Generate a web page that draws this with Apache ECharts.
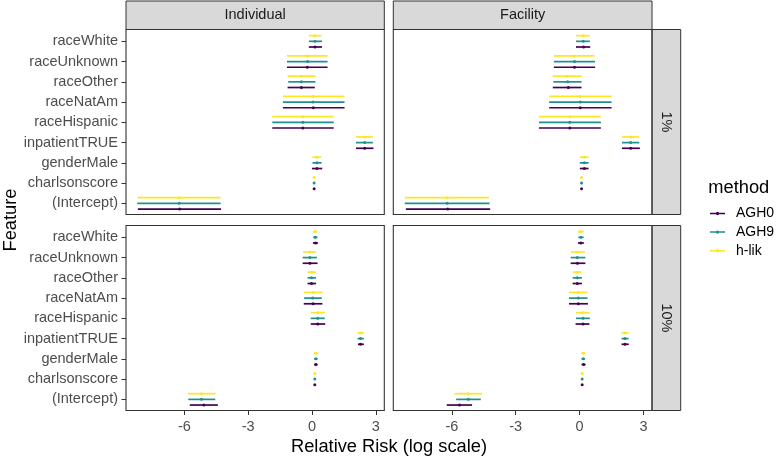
<!DOCTYPE html>
<html>
<head>
<meta charset="utf-8">
<script src="https://cdn.jsdelivr.net/npm/echarts@6/dist/echarts.min.js"></script>
<style>html,body{margin:0;padding:0;background:#fff;}#c{width:778px;height:457px;}</style>
</head>
<body>
<div id="c"></div>
<script>
// ---- data (top-to-bottom feature order) ----
const features = ['raceWhite','raceUnknown','raceOther','raceNatAm','raceHispanic','inpatientTRUE','genderMale','charlsonscore','(Intercept)'];
const methods = ['AGH0','AGH9','h-lik'];
const columnLabels = ['Individual','Facility'];
const rowLabels = ['1%','10%'];
const xTicks = [-6, -3, 0, 3];

// each entry: [estimate, lower, upper]
const ind1_AGH0 = [[0.14,-0.15,0.47],[-0.22,-1.18,0.73],[-0.50,-1.15,0.13],[0.06,-1.37,1.53],[-0.43,-1.87,1.02],[2.48,2.07,2.89],[0.23,0.00,0.48],[0.10,0.07,0.13],[-6.23,-8.19,-4.28]];
const ind1_AGH9 = [[0.14,-0.15,0.47],[-0.21,-1.18,0.73],[-0.50,-1.12,0.16],[0.05,-1.37,1.53],[-0.43,-1.87,1.02],[2.48,2.07,2.86],[0.23,0.02,0.45],[0.10,0.07,0.13],[-6.25,-8.22,-4.30]];
const ind1_hlik = [[0.13,-0.15,0.45],[-0.21,-1.18,0.73],[-0.50,-1.15,0.16],[0.05,-1.37,1.53],[-0.43,-1.87,1.02],[2.48,2.07,2.86],[0.23,0.02,0.45],[0.10,0.07,0.13],[-6.25,-8.22,-4.30]];

const fac1_AGH0 = [[0.19,-0.17,0.50],[-0.24,-1.21,0.73],[-0.53,-1.26,0.09],[0.03,-1.43,1.50],[-0.46,-1.91,1.00],[2.40,1.99,2.83],[0.22,0.01,0.42],[0.09,0.06,0.12],[-6.19,-8.16,-4.20]];
const fac1_AGH9 = [[0.17,-0.17,0.48],[-0.24,-1.21,0.72],[-0.56,-1.23,0.09],[0.03,-1.43,1.50],[-0.46,-1.91,1.00],[2.40,1.99,2.80],[0.22,0.01,0.42],[0.09,0.06,0.12],[-6.22,-8.21,-4.23]];
const fac1_hlik = [[0.17,-0.17,0.48],[-0.25,-1.21,0.70],[-0.61,-1.26,0.09],[0.03,-1.43,1.50],[-0.46,-1.91,1.00],[2.40,1.99,2.80],[0.22,0.01,0.42],[0.09,0.06,0.12],[-6.22,-8.21,-4.25]];

const ind10_AGH0 = [[0.17,0.04,0.28],[-0.10,-0.44,0.26],[-0.02,-0.21,0.19],[0.05,-0.39,0.49],[0.27,-0.06,0.62],[2.28,2.16,2.44],[0.18,0.10,0.26],[0.13,0.10,0.16],[-5.09,-5.75,-4.43]];
const ind10_AGH9 = [[0.15,0.06,0.26],[-0.10,-0.44,0.23],[-0.02,-0.21,0.19],[0.03,-0.37,0.46],[0.27,-0.06,0.60],[2.28,2.14,2.44],[0.18,0.10,0.26],[0.13,0.10,0.16],[-5.20,-5.82,-4.55]];
const ind10_hlik = [[0.15,0.04,0.26],[-0.10,-0.42,0.20],[-0.01,-0.20,0.18],[0.05,-0.39,0.49],[0.27,-0.06,0.60],[2.28,2.14,2.44],[0.18,0.10,0.26],[0.13,0.10,0.16],[-5.20,-5.84,-4.54]];

const fac10_AGH0 = [[0.06,-0.08,0.20],[-0.10,-0.42,0.27],[-0.11,-0.33,0.11],[-0.06,-0.50,0.39],[0.16,-0.19,0.46],[2.13,1.97,2.31],[0.19,0.09,0.28],[0.12,0.09,0.15],[-5.64,-6.24,-5.05]];
const fac10_AGH9 = [[0.06,-0.06,0.19],[-0.11,-0.42,0.27],[-0.11,-0.33,0.11],[-0.06,-0.50,0.37],[0.16,-0.17,0.48],[2.13,1.97,2.30],[0.17,0.09,0.25],[0.12,0.09,0.15],[-5.22,-5.80,-4.64]];
const fac10_hlik = [[0.06,-0.08,0.19],[-0.10,-0.41,0.25],[-0.11,-0.31,0.09],[-0.06,-0.50,0.37],[0.14,-0.17,0.48],[2.13,1.97,2.30],[0.17,0.09,0.25],[0.12,0.09,0.15],[-5.24,-5.88,-4.58]];

// ---- styling / layout ----
const colors = {'AGH0':'#440154','AGH9':'#21908C','h-lik':'#FDE725'};
const FONT = 'Liberation Sans, Arial, sans-serif';
const colLeft = [126, 393.3];
const colWidth = [258.3, 258.7];
const rowTop = [29.5, 225.5];
const panelH = 185;
const insetTop = 1.7;
const plotH = 182.3;

const panels = [
  {r:0, c:0, data:{'AGH0':ind1_AGH0,'AGH9':ind1_AGH9,'h-lik':ind1_hlik}},
  {r:0, c:1, data:{'AGH0':fac1_AGH0,'AGH9':fac1_AGH9,'h-lik':fac1_hlik}},
  {r:1, c:0, data:{'AGH0':ind10_AGH0,'AGH9':ind10_AGH9,'h-lik':ind10_hlik}},
  {r:1, c:1, data:{'AGH0':fac10_AGH0,'AGH9':fac10_AGH9,'h-lik':fac10_hlik}}
];

const grid = [], xAxis = [], yAxis = [], series = [], graphic = [];
panels.forEach((p, i) => {
  grid.push({left: colLeft[p.c], width: colWidth[p.c], top: rowTop[p.r] + insetTop, height: plotH, containLabel:false});
  const bottom = p.r === 1;
  xAxis.push({
    type:'value', gridIndex:i, min:-8.75, max:3.4, offset: bottom ? (panelH - insetTop - plotH) : 0, position:'bottom',
    axisLine:{show:false, onZero:false}, splitLine:{show:false},
    axisTick:{show:bottom, length:4.5, lineStyle:{color:'#333333', width:1}, customValues:xTicks},
    axisLabel:{show:bottom, customValues:xTicks, color:'#4D4D4D', fontSize:14.5, fontFamily:FONT, margin:9}
  });
  const left = p.c === 0;
  yAxis.push({
    type:'category', gridIndex:i, data:features, inverse:true, position:'left',
    axisLine:{show:false, onZero:false}, splitLine:{show:false},
    axisTick:{show:left, alignWithLabel:true, length:4.5, lineStyle:{color:'#333333', width:1}},
    axisLabel:{show:left, color:'#4D4D4D', fontSize:14.5, fontFamily:FONT, margin:8, interval:0}
  });
  methods.forEach((m, mi) => {
    const off = 1 - mi; // AGH0 lowest, h-lik highest
    const col = colors[m];
    series.push({
      type:'custom', name:m, xAxisIndex:i, yAxisIndex:i,
      itemStyle:{color:col},
      encode:{x:[0,1,2], y:3},
      data: p.data[m].map((v, k) => [v[0], v[1], v[2], k]),
      renderItem: function(params, api){
        const est = api.value(0), lo = api.value(1), hi = api.value(2), k = api.value(3);
        const a = api.coord([lo, k]), b = api.coord([hi, k]), e = api.coord([est, k]);
        const dy = off * api.size([0, 1])[1] * 0.28;
        return {type:'group', children:[
          {type:'line', shape:{x1:a[0], y1:a[1]+dy, x2:b[0], y2:b[1]+dy}, style:{stroke:col, lineWidth:1.7}},
          {type:'circle', shape:{cx:e[0], cy:e[1]+dy, r:1.5}, style:{fill:col}}
        ]};
      }
    });
  });
  // panel border
  graphic.push({type:'rect', z:10, silent:true, shape:{x:colLeft[p.c], y:rowTop[p.r], width:colWidth[p.c], height:panelH},
    style:{fill:'none', stroke:'#333333', lineWidth:1.1}});
});

// strips
[0,1].forEach(c => {
  graphic.push({type:'rect', z:5, shape:{x:colLeft[c], y:1, width:colWidth[c], height:rowTop[0]-1},
    style:{fill:'#D9D9D9', stroke:'#333333', lineWidth:1}});
  graphic.push({type:'text', z:6, x:colLeft[c]+colWidth[c]/2, y:(1+rowTop[0])/2,
    style:{text:columnLabels[c], fill:'#1A1A1A', font:'14.5px '+FONT, align:'center', verticalAlign:'middle'}});
});
[0,1].forEach(r => {
  const sx = colLeft[1]+colWidth[1];
  graphic.push({type:'rect', z:5, shape:{x:sx, y:rowTop[r], width:28.7, height:panelH},
    style:{fill:'#D9D9D9', stroke:'#333333', lineWidth:1}});
  graphic.push({type:'text', z:6, x:sx+14.35, y:rowTop[r]+panelH/2, rotation:-Math.PI/2,
    style:{text:rowLabels[r], fill:'#1A1A1A', font:'14.5px '+FONT, align:'center', verticalAlign:'middle'}});
});
// axis titles
graphic.push({type:'text', x:(colLeft[0]+colLeft[1]+colWidth[1])/2, y:447,
  style:{text:'Relative Risk (log scale)', fill:'#000', font:'18.3px '+FONT, align:'center', verticalAlign:'middle'}});
graphic.push({type:'text', x:11, y:(rowTop[0]+rowTop[1]+panelH)/2, rotation:Math.PI/2,
  style:{text:'Feature', fill:'#000', font:'18.3px '+FONT, align:'center', verticalAlign:'middle'}});
graphic.push({type:'text', x:708.3, y:187.5,
  style:{text:'method', fill:'#000', font:'18.3px '+FONT, align:'left', verticalAlign:'middle'}});

const keyIcon = 'path://M0,4L20,4L20,6L0,6Z M7.8,5a2.2,2.2 0 1,1 4.4,0a2.2,2.2 0 1,1 -4.4,0Z';

const option = {
  animation:false,
  backgroundColor:'#fff',
  grid, xAxis, yAxis, series, graphic,
  legend:{
    orient:'vertical', left:710, top:206.5, padding:0, itemGap:4.6,
    itemWidth:15, itemHeight:9,
    data: methods.map(m => ({name:m, icon:keyIcon, itemStyle:{color:colors[m]}})),
    textStyle:{fontSize:14, fontFamily:FONT, color:'#000', padding:[0,0,0,6]},
    selectedMode:false
  }
};
const chart = echarts.init(document.getElementById('c'), null, {renderer:'canvas'});
chart.setOption(option);
</script>
</body>
</html>
